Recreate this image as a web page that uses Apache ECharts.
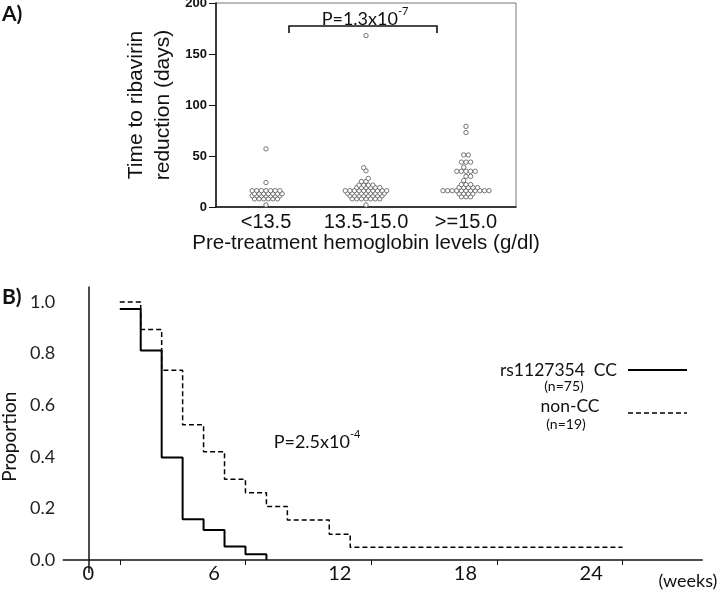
<!DOCTYPE html>
<html>
<head>
<meta charset="utf-8">
<script src="https://cdn.jsdelivr.net/npm/echarts@6/dist/echarts.min.js"></script>
<style>
html,body{margin:0;padding:0;background:#fff;}
#chart{width:720px;height:592px;}
</style>
</head>
<body>
<div id="chart"></div>
<script>
// ---------- Panel A data ----------
const categoriesA = ['<13.5', '13.5-15.0', '>=15.0'];
const yTicksA = [0, 50, 100, 150, 200];
const daysLow = [57, 24,
  16, 16, 16, 16, 16, 16, 16,
  13, 13, 13, 13, 13, 13, 13,
  11, 11, 11, 11, 11, 11, 11,
  8, 8, 8, 8, 8, 8,
  2];
const daysMid = [168, 38.5, 35.5, 28, 25, 25,
  21.5, 21.5, 21.5, 21.5,
  19, 19, 19, 19, 19, 19,
  16, 16, 16, 16, 16, 16, 16, 16, 16, 16,
  13.5, 13.5, 13.5, 13.5, 13.5, 13.5, 13.5, 13.5, 13.5,
  11, 11, 11, 11, 11, 11, 11, 11,
  8, 8, 8, 8, 8, 8, 8,
  2];
const daysHigh = [79, 73, 51, 51, 44, 44, 44, 39,
  35, 35, 35, 35, 35,
  30, 30, 26,
  22, 22, 22,
  19, 19, 19, 19, 19,
  16, 16, 16, 16, 16, 16, 16, 16, 16, 16, 16,
  13, 13, 13, 13,
  10, 10, 10];

// ---------- Panel B data ----------
const xLabelsB = [0, 6, 12, 18, 24];
const xTicksB = [1.5, 7.5, 13.5, 19.5, 25.5];
const yLabelsB = [0, 0.2, 0.4, 0.6, 0.8, 1.0];
const weeksCC = [1.5, 2.5, 3.5, 4.5, 5.5, 6.5, 7.5, 8.5];
const propCC = [0.973, 0.812, 0.397, 0.158, 0.116, 0.052, 0.022, 0];
const weeksNonCC = [1.5, 2.5, 3.5, 4.5, 5.5, 6.5, 7.5, 8.5, 9.5, 11.5, 12.5, 25.5];
const propNonCC = [1.0, 0.893, 0.735, 0.524, 0.42, 0.313, 0.261, 0.207, 0.155, 0.10, 0.049, 0.049];

// beeswarm-like row layout (offsets in dot widths)
function swarm(values, cat) {
  const counts = new Map();
  values.forEach(v => counts.set(v, (counts.get(v) || 0) + 1));
  const rows = [...counts.keys()].sort((a, b) => a - b);
  const out = [];
  let prevVal = null, prevPhase = null, flip = 1;
  rows.forEach(v => {
    const n = counts.get(v);
    let shift = 0;
    let phase = ((n - 1) / 2) % 1;
    if (prevVal !== null && v - prevVal < 5 && phase === prevPhase) {
      shift = 0.5 * flip; flip = -flip; phase = (phase + 0.5) % 1;
    }
    for (let i = 0; i < n; i++) out.push([cat, v, i - (n - 1) / 2 + shift]);
    prevVal = v; prevPhase = phase;
  });
  return out;
}
const dotData = [].concat(swarm(daysLow, 0), swarm(daysMid, 1), swarm(daysHigh, 2));
const DOT = 4.6;

const FA = 'Liberation Sans, Arial, sans-serif';
const FB = 'Lato, Open Sans, sans-serif';

const chart = echarts.init(document.getElementById('chart'), null, {renderer: 'canvas'});
chart.setOption({
  animation: false,
  backgroundColor: '#fff',
  grid: [
    {left: 216, top: 3, width: 300, height: 204, show: true, borderColor: '#777', borderWidth: 1, containLabel: false, outerBoundsMode: 'none'},
    {left: 63.2, top: 286.5, width: 639, height: 286.4, show: false, containLabel: false, outerBoundsMode: 'none'}
  ],
  xAxis: [
    {
      gridIndex: 0, type: 'category', data: categoriesA,
      axisLine: {lineStyle: {color: '#111', width: 1.5}},
      axisTick: {show: false},
      axisLabel: {interval: 0, fontSize: 20, fontFamily: FA, color: '#111', margin: 5},
      name: 'Pre-treatment hemoglobin levels (g/dl)', nameLocation: 'middle', nameGap: 24,
      nameTextStyle: {fontSize: 20.5, fontFamily: FA, color: '#111'}
    },
    {
      gridIndex: 1, type: 'value', min: -1.2, max: 29.3,
      axisLine: {onZero: true, lineStyle: {color: '#111', width: 1.5}},
      axisTick: {show: true, customValues: xTicksB, length: 5, lineStyle: {color: '#111', width: 1}},
      axisLabel: {customValues: xLabelsB, fontSize: 20, fontFamily: FB, color: '#111', margin: -9},
      splitLine: {show: false}
    }
  ],
  yAxis: [
    {
      gridIndex: 0, type: 'value', min: 0, max: 200, interval: 50,
      axisLine: {show: true, lineStyle: {color: '#111', width: 1.5}},
      axisTick: {show: true, length: 7, lineStyle: {color: '#111'}},
      axisLabel: {fontSize: 13, fontWeight: 'bold', fontFamily: FA, color: '#111', margin: 9},
      splitLine: {show: false},
      name: 'Time to ribavirin\nreduction (days)', nameLocation: 'middle', nameRotate: 90, nameGap: 39,
      nameTextStyle: {fontSize: 21, fontFamily: FA, color: '#111', lineHeight: 27}
    },
    {
      gridIndex: 1, type: 'value', min: -0.05, max: 1.06,
      axisLine: {show: false, onZero: false},
      axisTick: {show: false},
      axisLabel: {customValues: yLabelsB, formatter: v => v.toFixed(1), fontSize: 18, fontFamily: FB, color: '#222', margin: 8},
      splitLine: {show: false},
      name: 'Proportion', nameLocation: 'middle', nameRotate: 90, nameGap: 30,
      nameTextStyle: {fontSize: 19, fontFamily: FB, color: '#111', padding: [0, 14, 0, 0]}
    }
  ],
  series: [
    {
      type: 'custom', xAxisIndex: 0, yAxisIndex: 0,
      data: dotData,
      renderItem: function (params, api) {
        const c = api.coord([api.value(0), api.value(1)]);
        return {
          type: 'circle',
          shape: {cx: c[0] + api.value(2) * DOT, cy: c[1], r: 2.2},
          style: {fill: '#fff', stroke: '#555', lineWidth: 0.8}
        };
      }
    },
    {
      name: 'rs1127354 CC', type: 'line', xAxisIndex: 1, yAxisIndex: 1, step: 'end',
      symbol: 'none', data: weeksCC.map((w, i) => [w, propCC[i]]),
      lineStyle: {color: '#000', width: 2},
      markLine: {
        silent: true, symbol: 'none', label: {show: false},
        lineStyle: {color: '#111', width: 1.5, type: 'solid'},
        data: [{xAxis: 0}]
      }
    },
    {
      name: 'non-CC', type: 'line', xAxisIndex: 1, yAxisIndex: 1, step: 'end',
      symbol: 'none', data: weeksNonCC.map((w, i) => [w, propNonCC[i]]),
      lineStyle: {color: '#000', width: 1.5, type: [5, 3]}
    }
  ],
  graphic: [
    {type: 'text', x: 2, y: 4, style: {text: 'A)', font: 'bold 21px ' + FB, fill: '#111'}},
    {type: 'text', x: 2, y: 287, style: {text: 'B)', font: 'bold 21px ' + FB, fill: '#111'}},
    {type: 'polyline', shape: {points: [[289, 33], [289, 26], [437, 26], [437, 33]]}, style: {stroke: '#111', lineWidth: 1.6, fill: null}},
    {type: 'text', x: 365, y: 17, style: {
      text: '{n|P=1.3x10}{s|-7}', align: 'center', verticalAlign: 'middle', fill: '#111',
      rich: {n: {fontSize: 18, fontFamily: FB, lineHeight: 22, verticalAlign: 'bottom'}, s: {fontSize: 11, fontFamily: FB, lineHeight: 22, verticalAlign: 'top'}}
    }},
    {type: 'text', x: 317, y: 440, style: {
      text: '{n|P=2.5x10}{s|-4}', align: 'center', verticalAlign: 'middle', fill: '#111',
      rich: {n: {fontSize: 18, fontFamily: FB, lineHeight: 22, verticalAlign: 'bottom'}, s: {fontSize: 11, fontFamily: FB, lineHeight: 22, verticalAlign: 'top'}}
    }},
    {type: 'text', x: 617, y: 370, style: {text: 'rs1127354  CC', font: '17.5px ' + FB, fill: '#111', align: 'right', verticalAlign: 'middle'}},
    {type: 'text', x: 564, y: 386, style: {text: '(n=75)', font: '14px ' + FB, fill: '#111', align: 'center', verticalAlign: 'middle'}},
    {type: 'text', x: 570, y: 406, style: {text: 'non-CC', font: '17.5px ' + FB, fill: '#111', align: 'center', verticalAlign: 'middle'}},
    {type: 'text', x: 566, y: 424, style: {text: '(n=19)', font: '14px ' + FB, fill: '#111', align: 'center', verticalAlign: 'middle'}},
    {type: 'line', shape: {x1: 628, y1: 370, x2: 687, y2: 370}, style: {stroke: '#000', lineWidth: 2}},
    {type: 'line', shape: {x1: 628, y1: 413, x2: 687, y2: 413}, style: {stroke: '#000', lineWidth: 1.5, lineDash: [5, 3]}},
    {type: 'text', x: 688, y: 581, style: {text: '(weeks)', font: '18px ' + FB, fill: '#111', align: 'center', verticalAlign: 'middle'}}
  ]
});
</script>
</body>
</html>
